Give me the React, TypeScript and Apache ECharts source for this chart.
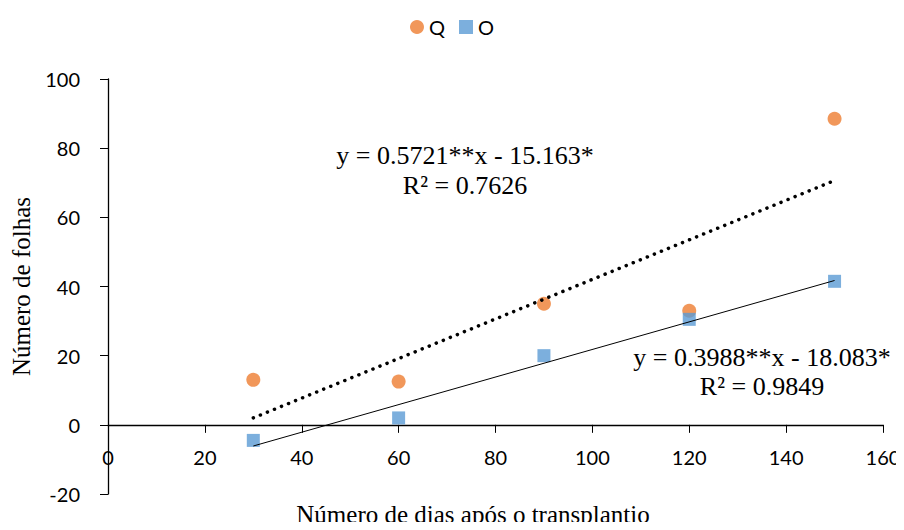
import React, { useEffect, useRef } from "react";
import * as echarts from "echarts";

const days = [30, 60, 90, 120, 150];
const qValues = [13, 12.5, 35, 33, 88.5];
const oValues = [-4.5, 2, 20, 30.5, 41.5];
const qFit = { slope: 0.5721, intercept: -15.163 };
const oFit = { slope: 0.3988, intercept: -18.083 };
const qEquation = ["y = 0.5721**x - 15.163*", "R² = 0.7626"];
const oEquation = ["y = 0.3988**x - 18.083*", "R² = 0.9849"];
const yMin = -20;
const yMax = 100;

const fitLine = (f: { slope: number; intercept: number }) => [
  [days[0], f.slope * days[0] + f.intercept],
  [days[days.length - 1], f.slope * days[days.length - 1] + f.intercept],
];

const serif = "'Liberation Serif', 'Times New Roman', serif";
const sans = "Lato, 'Liberation Sans', sans-serif";

const gridTop = 79;
const gridBottom = 36;
const gridHeight = 530 - gridTop - gridBottom;
const zeroOffset = -((0 - yMin) / (yMax - yMin)) * gridHeight;

export default function App() {
  const ref = useRef<HTMLDivElement>(null);
  useEffect(() => {
    if (!ref.current) return;
    const chart = echarts.init(ref.current, null, { renderer: "svg" });
    chart.setOption({
      animation: false,
      backgroundColor: "#fff",
      grid: { left: 108, right: 21, top: gridTop, bottom: gridBottom, outerBoundsMode: "none" },
      legend: {
        data: [
          { name: "Q", icon: "circle" },
          { name: "O", icon: "rect" },
        ],
        top: 12,
        left: "center",
        itemWidth: 14,
        itemHeight: 14,
        itemGap: 14,
        textStyle: { fontFamily: sans, fontSize: 20, color: "#000" },
      },
      xAxis: {
        type: "value",
        min: 0,
        max: 160,
        interval: 20,
        position: "bottom",
        offset: zeroOffset,
        axisLine: { onZero: false, lineStyle: { color: "#000", width: 1.3 } },
        axisTick: { show: true, length: 8, lineStyle: { color: "#000" } },
        axisLabel: { fontFamily: sans, fontSize: 20, color: "#000", margin: 22 },
        splitLine: { show: false },
      },
      yAxis: {
        type: "value",
        min: yMin,
        max: yMax,
        interval: 20,
        axisLine: { show: true, onZero: false, lineStyle: { color: "#000", width: 1.3 } },
        axisTick: { show: true, length: 8, lineStyle: { color: "#000" } },
        axisLabel: { fontFamily: sans, fontSize: 20, color: "#000", margin: 28 },
        splitLine: { show: false },
        name: "Número de folhas",
        nameLocation: "middle",
        nameGap: 66,
        nameTextStyle: { fontFamily: serif, fontSize: 25, color: "#000" },
      },
      graphic: [
        {
          type: "text",
          x: 473,
          y: 514,
          style: {
            text: "Número de dias após o transplantio",
            font: `25px ${serif}`,
            fill: "#000",
            align: "center",
            verticalAlign: "middle",
          },
          silent: true,
        },
        {
          type: "text",
          x: 465,
          y: 140,
          style: {
            text: qEquation.join("\n"),
            font: `26px ${serif}`,
            fill: "#000",
            align: "center",
            lineHeight: 30,
          },
        },
        {
          type: "text",
          x: 762,
          y: 343,
          style: {
            text: oEquation.join("\n"),
            font: `26px ${serif}`,
            fill: "#000",
            align: "center",
            lineHeight: 29,
          },
        },
      ],
      series: [
        {
          name: "Q",
          type: "scatter",
          data: days.map((d, i) => [d, qValues[i]]),
          symbol: "circle",
          symbolSize: 14,
          itemStyle: { color: "#ED7D31" },
          z: 2,
        },
        {
          name: "O",
          type: "scatter",
          data: days.map((d, i) => [d, oValues[i]]),
          symbol: "rect",
          symbolSize: 13,
          itemStyle: { color: "#5B9BD5" },
          z: 2,
        },
        {
          name: "Q fit",
          type: "line",
          data: fitLine(qFit),
          symbol: "none",
          silent: true,
          lineStyle: { color: "#000", width: 3.5, type: [0.1, 7.5], cap: "round" },
          z: 3,
        },
        {
          name: "O fit",
          type: "line",
          data: fitLine(oFit),
          symbol: "none",
          silent: true,
          lineStyle: { color: "#000", width: 1 },
          z: 3,
        },
      ],
    });
    return () => chart.dispose();
  }, []);
  return <div ref={ref} style={{ width: 904, height: 530, margin: -8 }} />;
}
